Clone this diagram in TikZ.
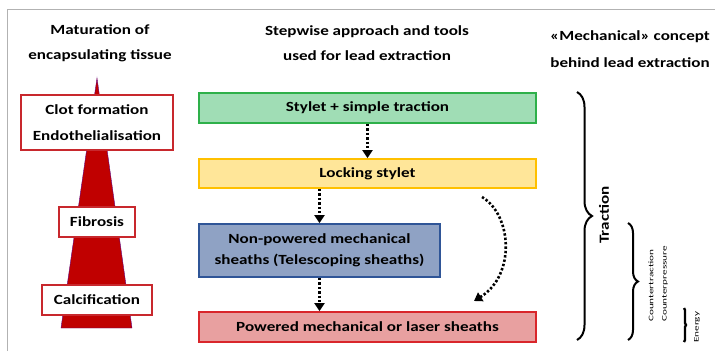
\documentclass[tikz,border=0pt]{standalone}
\usepackage{fontspec}
\usepackage{graphicx}
\setmainfont{Carlito}[FakeStretch=1.22]
\newfontfamily\plainf{Carlito}
\usetikzlibrary{arrows.meta,decorations.pathreplacing}
\definecolor{boxred}{HTML}{C8282D}
\definecolor{trired}{HTML}{C00000}
\definecolor{gfill}{HTML}{A0DDB5}
\definecolor{gdraw}{HTML}{2EB04A}
\definecolor{yfill}{HTML}{FFE699}
\definecolor{ydraw}{HTML}{FFC000}
\definecolor{bfill}{HTML}{8FA2C4}
\definecolor{bdraw}{HTML}{2F5597}
\definecolor{rfill}{HTML}{E8A0A0}
\definecolor{rdraw}{HTML}{D9262B}
\begin{document}
\begin{tikzpicture}[x=1pt,y=-1pt,
  hdr/.style={align=center,font=\bfseries\fontsize{14}{25}\selectfont,inner sep=0pt},
  lbox/.style={draw=boxred,fill=white,line width=1.8pt,inner sep=0pt,align=center,font=\bfseries\fontsize{14}{26}\selectfont},
  mbox/.style={line width=1.8pt,inner sep=0pt,align=center,minimum width=337pt,minimum height=30pt,font=\bfseries\fontsize{14}{21}\selectfont},
  dotarrow/.style={line width=2.6pt,dash pattern=on 2.4pt off 2pt,-{Triangle[length=8pt,width=10pt]}},
  bracestyle/.style={line width=2pt,decorate},
  smalltxt/.style={rotate=90,anchor=west,inner sep=0pt,font=\plainf\fontsize{7}{8}\selectfont}
]
\useasboundingbox (0,0) rectangle (715,351);
\draw[gray!60,line width=1pt] (7,351) -- (7,9) -- (715,9);

% headers
\node[hdr] (h1) at (100,43) {Maturation of\\encapsulating tissue};
\node[hdr] (h2) at (367,43) {Stepwise approach and tools\\used for lead extraction};
\node[hdr,font=\bfseries\fontsize{14}{27}\selectfont] (h3) at (630,49) {«Mechanical» concept\\behind lead extraction};

% left triangle
\fill[trired,draw=blue!50!trired,line width=0.4pt] (97,78) -- (132,328) -- (61,328) -- cycle;
\node[lbox,minimum width=152pt,minimum height=55pt] (clot) at (97,122.5) {Clot formation\\Endothelialisation};
\node[lbox,minimum width=76pt,minimum height=30pt] (fib) at (97,222) {Fibrosis};
\node[lbox,minimum width=110pt,minimum height=30pt] (calc) at (97,300) {Calcification};

% middle boxes
\node[mbox,draw=gdraw,fill=gfill] (green) at (367.5,108) {Stylet + simple traction};
\node[mbox,draw=ydraw,fill=yfill,minimum height=29pt] (yellow) at (367.5,173.5) {Locking stylet};
\node[mbox,draw=bdraw,fill=bfill,minimum width=241pt,minimum height=53pt] (blue) at (319.5,250.5) {Non-powered mechanical\\sheaths (Telescoping sheaths)};
\node[mbox,draw=rdraw,fill=rfill] (red) at (367.5,327) {Powered mechanical or laser sheaths};

\draw[dotarrow] (green) -- (yellow);
\draw[dotarrow] (yellow.south -| blue.north) -- (blue);
\draw[dotarrow] (blue) -- (red.north -| blue.south);
\coordinate (c1) at (482,197);
\coordinate (c2) at (474,301);
\draw[dotarrow] (c1) .. controls (512,215) and (516,275) .. (c2);

% braces
\draw[bracestyle,decoration={brace,amplitude=15pt}] (577,92) -- (577,340);
\node[rotate=90,inner sep=0pt,font=\bfseries\fontsize{14}{16}\selectfont] (trac) at (604,215) {Traction};
\draw[bracestyle,decoration={brace,amplitude=10pt}] (628,223) -- (628,340);
\draw[bracestyle,line width=2.4pt,decoration={brace,amplitude=2pt}] (684,308) -- (684,342);
\node[smalltxt] (ctr) at (651,322) {\scalebox{1.6}[1]{Countertraction}};
\node[smalltxt] (cpr) at (665,322) {\scalebox{1.6}[1]{Counterpressure}};
\node[smalltxt] (en) at (697,343) {\scalebox{1.6}[1]{Energy}};
\end{tikzpicture}
\end{document}
